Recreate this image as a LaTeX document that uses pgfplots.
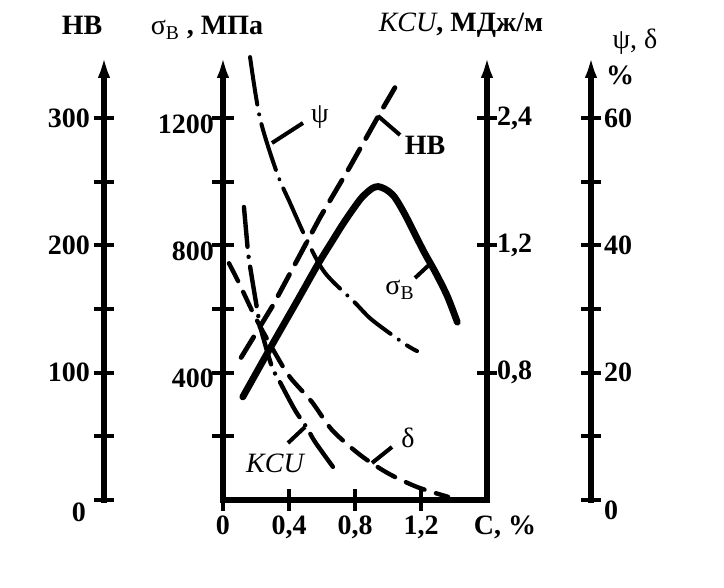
\documentclass[border=0pt]{standalone}
\usepackage{fontspec}
\setmainfont{Liberation Serif}
\usepackage{pgfplots}
\pgfplotsset{compat=1.18}
\usetikzlibrary{arrows.meta}
\newcommand{\px}[2]{({0.5pt*(#1)},{294pt-0.5pt*(#2)})}
\newcommand{\lbl}{\fontsize{14}{16}\selectfont\bfseries}
\newcommand{\rlbl}{\fontsize{14}{16}\selectfont}
\pgfplotsset{
 base/.style={scale only axis, width=132pt, height=224pt, xmin=0, xmax=1.6, clip=false,
   tick align=inside, major tick length=10pt, minor tick length=10pt,
   tick style={line width=2pt, black},
   ticklabel style={font=\lbl},
   axis line style={line width=2.6pt, line cap=rect},
   anchor=south west, at={(111.5pt,44pt)}},
 arrowtop/.style={y axis line style={-{Latex[length=13pt,width=6pt]}}},
}
\begin{document}
\begin{tikzpicture}
\useasboundingbox (0,0) rectangle (362pt,294pt);
% sigma_B main axis
\begin{axis}[base, ymin=0, ymax=1408,
  axis x line=bottom, axis y line=left, arrowtop, x axis line style={-},
  major tick length=11pt, minor tick length=11pt,
  xtick={0,0.4,0.8,1.2}, xticklabels={0,{0,4},{0,8},{1,2}},
  xticklabel style={yshift=1pt},
  ytick={400,800,1200}, yticklabels={400,800,1200},
  yticklabel style={yshift=-3pt, xshift=4.5pt},
  minor ytick={200,600,1000}]
\addplot[line width=3.4pt, smooth, line cap=round] coordinates {
 (0.12,324) (0.29,481) (0.45,626) (0.58,745) (0.66,812) (0.72,862) (0.78,908)
 (0.84,950) (0.90,978) (0.94,985) (0.99,975) (1.04,952) (1.10,900)
 (1.16,839) (1.22,778) (1.29,713) (1.36,640) (1.42,559)};
\end{axis}
% HB curve
\begin{axis}[base, ymin=0, ymax=352, hide axis]
\addplot[line width=2.4pt, line cap=round, dash pattern=on 12pt off 6pt] coordinates {
 (0.11,112) (0.303,153) (0.588,222) (0.770,262) (0.952,304) (1.042,324)};
\end{axis}
% psi, delta curves
\begin{axis}[base, ymin=0, ymax=70.4, hide axis]
\addplot[line width=2pt, smooth, line cap=round, dash pattern=on 24pt off 5pt on 0.01pt off 5pt] coordinates {
 (0.164,69.6) (0.224,60) (0.327,51.4) (0.406,46.7) (0.509,40.8) (0.618,35.7)
 (0.80,31.0) (0.903,28.3) (1.103,24.5) (1.176,23.4)};
\addplot[line width=2.2pt, smooth, line cap=round, dash pattern=on 10pt off 6pt] coordinates {
 (0.036,37.2) (0.097,34.1) (0.194,28.8) (0.315,23.1) (0.406,19.3) (0.539,15.4)
 (0.661,11.0) (0.830,7.1) (1.0,4.2) (1.18,2.0) (1.364,0.5)};
\end{axis}
% KCU axis (non-linear labels: positions 1,2,3)
\begin{axis}[base, ymin=0, ymax=3.52, axis y line=right, axis x line=none, arrowtop,
  xtick=\empty, ytick={1,2,3}, yticklabels={{0,8},{1,2},{2,4}},
  yticklabel style={xshift=-3.5pt}]
\addplot[line width=2.2pt, smooth, line cap=round, dash pattern=on 20pt off 5pt on 0.01pt off 5pt] coordinates {
 (0.127,2.302) (0.145,2.042) (0.158,1.885) (0.218,1.414) (0.236,1.312) (0.297,1.045)
 (0.345,0.927) (0.436,0.707) (0.509,0.566) (0.558,0.456) (0.667,0.259)};
\end{axis}
% HB scale
\begin{axis}[base, at={(52pt,44pt)}, width=20pt, xmin=0, xmax=1, ymin=0, ymax=352,
  axis y line=left, axis x line=none, arrowtop, xtick=\empty,
  ytick={100,200,300}, yticklabels={100,200,300}, minor ytick={50,150,250},
  yticklabel style={xshift=1.5pt},
  extra y ticks={0}, extra y tick labels={0},
  extra y tick style={yticklabel style={yshift=-6pt, xshift=-2pt}}]
\end{axis}
% psi, delta scale
\begin{axis}[base, at={(295.5pt,44pt)}, anchor=south east, width=20pt, xmin=0, xmax=1, ymin=0, ymax=70.4,
  axis y line=right, axis x line=none, arrowtop, xtick=\empty,
  ytick={20,40,60}, yticklabels={20,40,60}, minor ytick={10,30,50},
  yticklabel style={xshift=-2pt},
  extra y ticks={0}, extra y tick labels={0},
  extra y tick style={yticklabel style={yshift=-5pt}}]
\end{axis}
% axis titles
\node at \px{82}{25} {\lbl HB};
\node at \px{207}{28} {\rlbl σ\textsubscript{В}\lbl\ , МПа};
\node at \px{461}{25} {\rlbl\itshape KCU\upshape\lbl, МДж/м};
\node at \px{635}{42} {\rlbl ψ, δ};
\node at \px{620}{75} {\lbl \%};
\node at \px{505}{527} {\lbl C, \%};
% curve labels and leaders
\node at \px{320}{117} {\rlbl ψ};
\node at \px{425}{145} {\lbl HB};
\node at \px{400}{290} {\rlbl σ\textsubscript{В}};
\node at \px{275}{463} {\rlbl\itshape KCU};
\node at \px{408}{438} {\rlbl δ};
\draw[line width=2pt] \px{272}{143} -- \px{303}{123};
\draw[line width=2pt] \px{378}{116} -- \px{400}{135};
\draw[line width=2pt] \px{415}{278} -- \px{430}{264};
\draw[line width=2pt] \px{288}{443} -- \px{305}{427};
\draw[line width=2pt] \px{372}{463} -- \px{392}{447};
\end{tikzpicture}
\end{document}
